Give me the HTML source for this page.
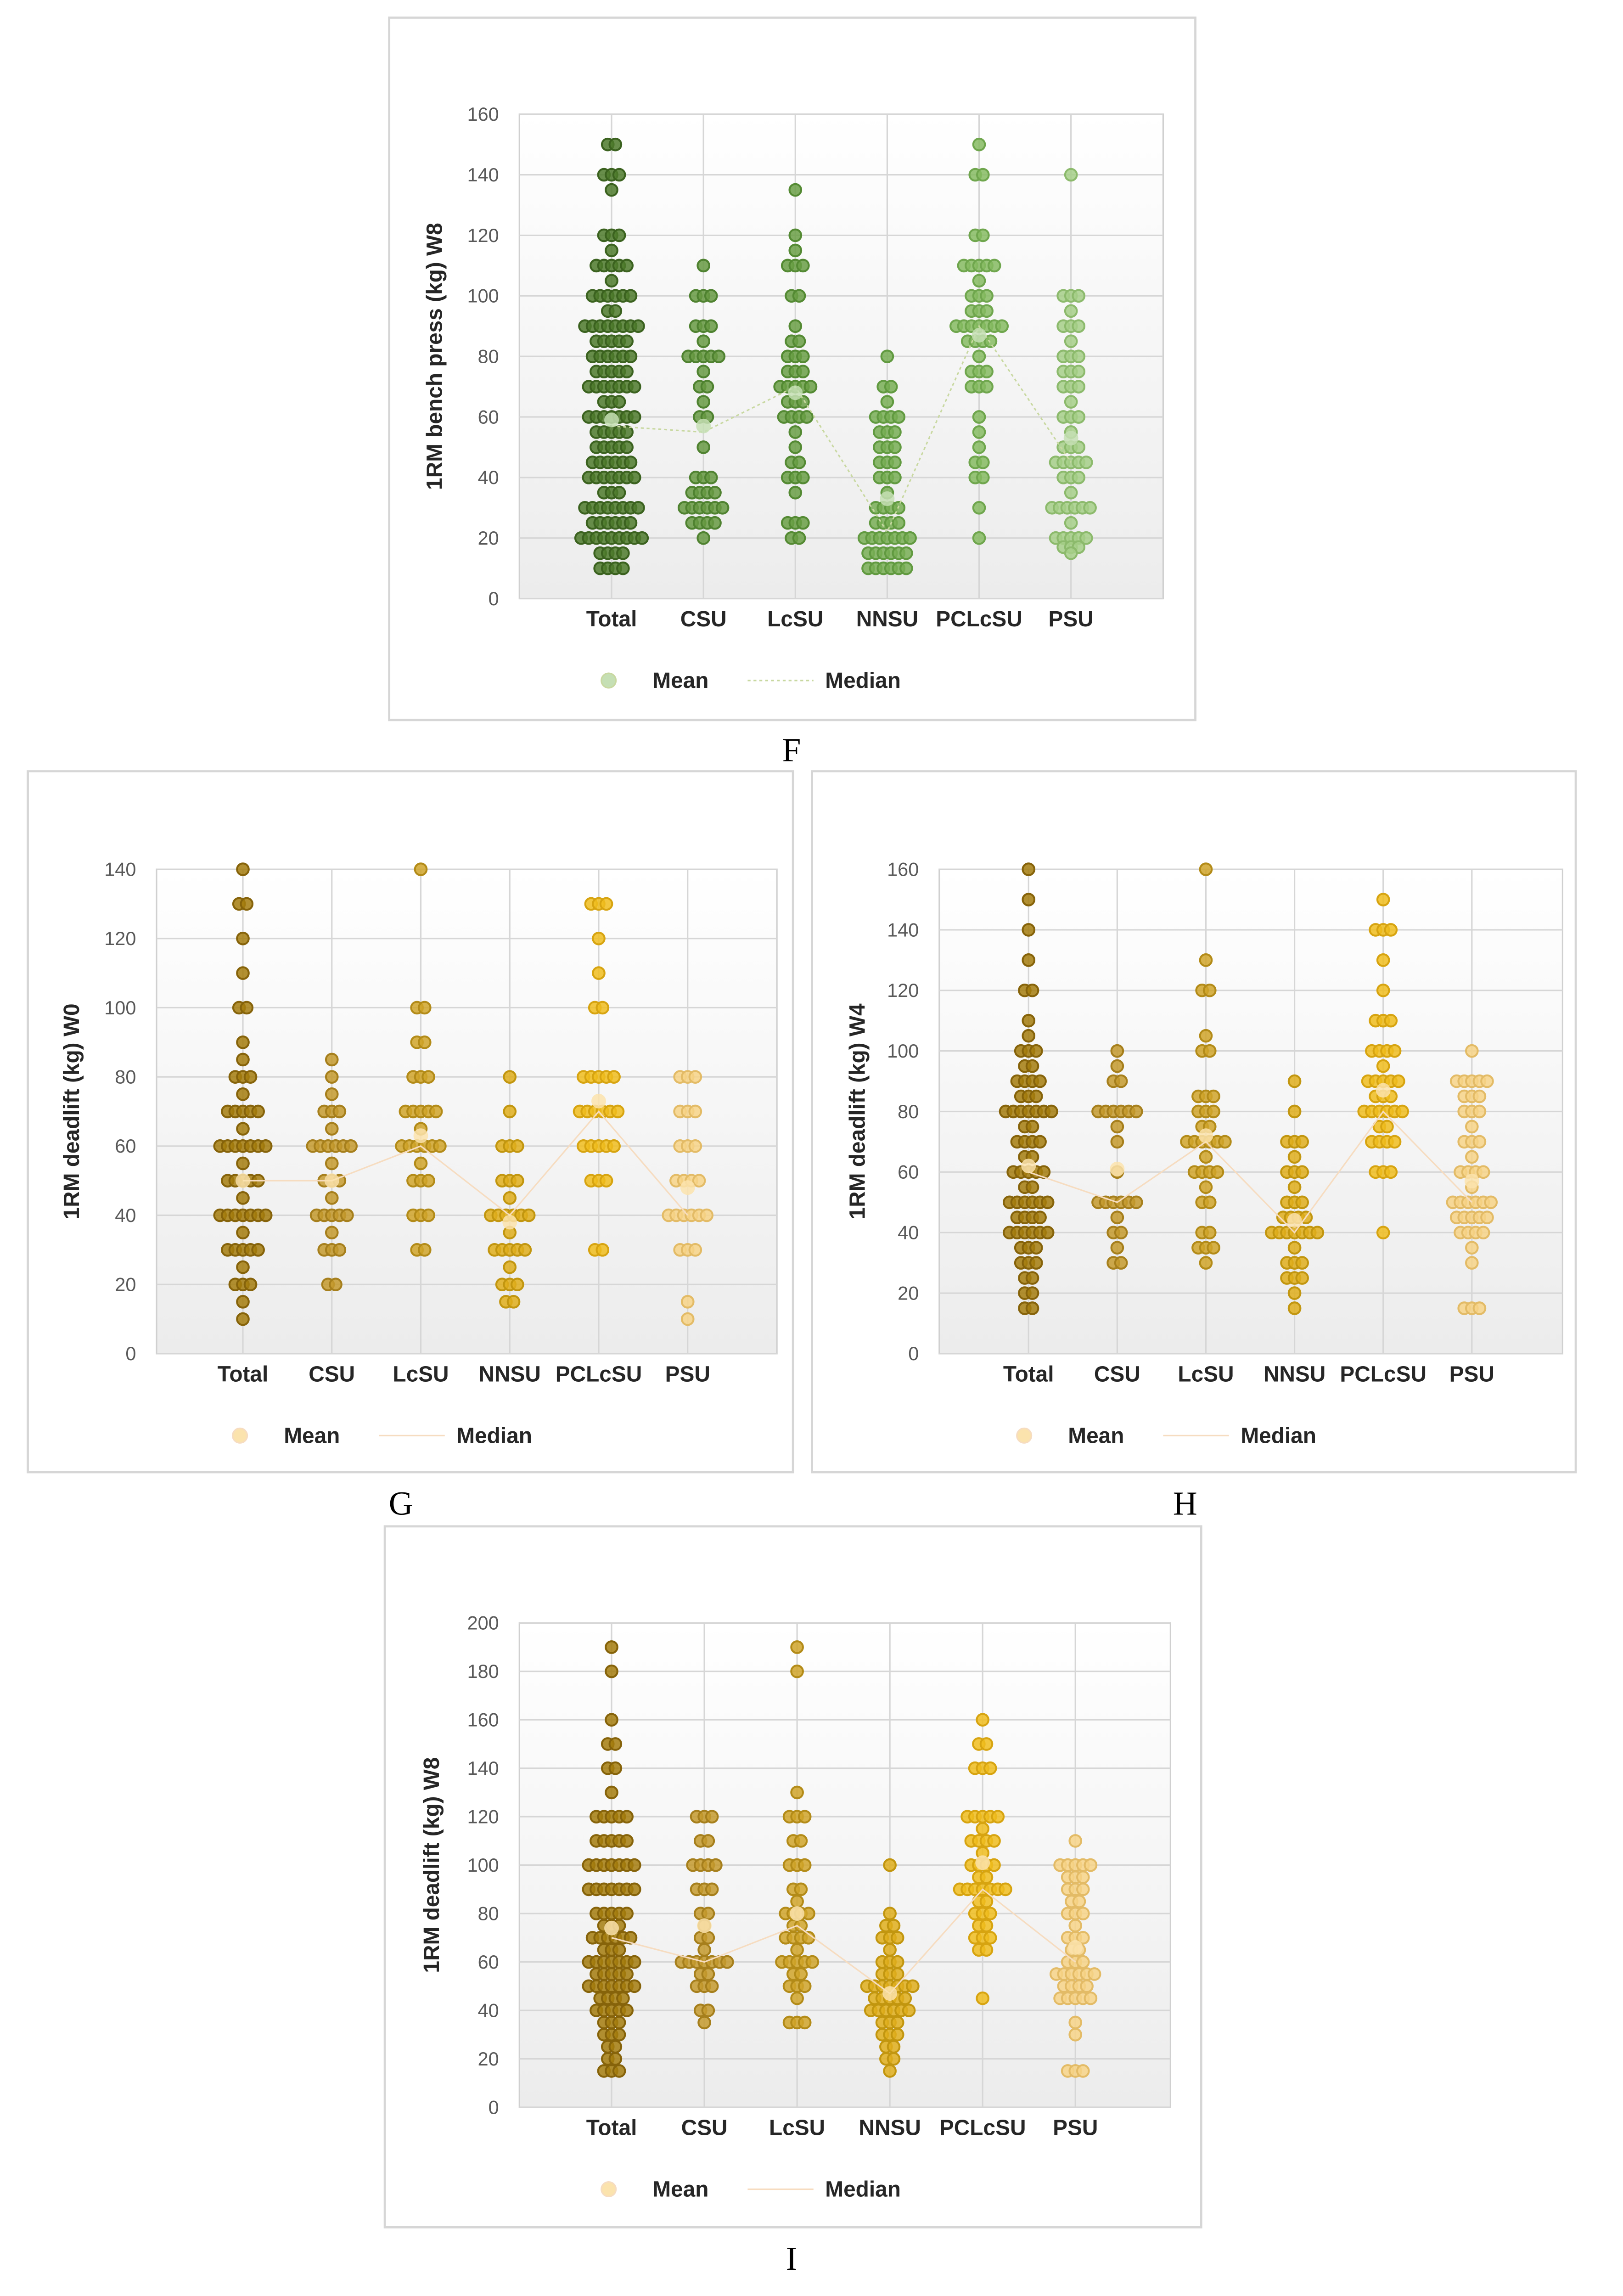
<!DOCTYPE html>
<html><head><meta charset="utf-8"><style>
html,body{margin:0;padding:0;background:#fff;overflow:hidden}
svg{display:block}
</style></head><body>
<svg id="root" xmlns="http://www.w3.org/2000/svg" width="3535" height="5072" viewBox="0 0 1109.3 1591.5">
<defs>
<linearGradient id="bg" x1="0" y1="0" x2="0" y2="1"><stop offset="0" stop-color="#ffffff"/><stop offset="1" stop-color="#ececec"/></linearGradient>
</defs>
</svg>
<script>
const cats = ["Total","CSU","LcSU","NNSU","PCLcSU","PSU"];
// Panel F: value/count lists per category
const fTotalV=[150,140,135,120,115,110,105,100,95,90,85,80,75,70,65,60,55,50,45,40,35,30,25,20,15,10];
const fTotalC=[2,3,1,3,1,5,1,6,2,8,5,6,5,7,3,7,5,5,6,7,3,8,6,9,4,4];
const fCsuV=[110,100,90,85,80,75,70,65,60,50,40,35,30,25,20];
const fCsuC=[1,3,3,1,5,1,2,1,2,1,3,4,6,4,1];
const fLcsuV=[135,120,115,110,100,90,85,80,75,70,65,60,55,50,45,40,35,25,20];
const fLcsuC=[1,1,1,3,2,1,2,3,3,5,3,4,1,1,2,3,1,3,2];
const fNnsuV=[80,70,65,60,55,50,45,40,35,30,25,20,15,10];
const fNnsuC=[1,2,1,4,3,3,3,3,1,4,4,7,6,6];
const fPclV=[150,140,120,110,105,100,95,90,85,80,75,70,60,55,50,45,40,30,20];
const fPclC=[1,2,2,5,1,3,3,7,4,1,3,3,1,1,1,2,2,1,1];
const fPsuV=[140,100,95,90,85,80,75,70,65,60,55,50,45,40,35,30,25,20,17,15];
const fPsuC=[1,3,1,3,1,3,3,3,1,3,1,3,5,3,1,6,1,5,3,1];
const fMean=[59,57,68,33,87,53];
const fMedian=[57,55,70,22,90,45];
// Panel G
const gTotalV=[140,130,120,110,100,90,85,80,75,70,65,60,55,50,45,40,35,30,25,20,15,10];
const gTotalC=[1,2,1,1,2,1,1,3,1,5,1,7,1,5,1,7,1,5,1,3,1,1];
const gCsuV=[85,80,75,70,65,60,55,50,45,40,35,30,20];
const gCsuC=[1,1,1,3,1,6,1,3,1,5,1,3,2];
const gLcsuV=[140,100,90,80,70,65,60,55,50,40,30];
const gLcsuC=[1,2,2,3,5,1,6,1,3,3,2];
const gNnsuV=[80,70,60,50,45,40,35,30,25,20,15];
const gNnsuC=[1,1,3,3,1,6,1,5,1,3,2];
const gPclV=[130,120,110,100,80,70,60,50,30];
const gPclC=[3,1,1,2,5,6,5,3,2];
const gPsuV=[80,70,60,50,40,30,15,10];
const gPsuC=[3,3,3,4,6,3,1,1];
const gMean=[50,50,63,38,73,48];
const gMedian=[50,50,60,40,70,40];
// Panel H
const hTotalV=[160,150,140,130,120,110,105,100,95,90,85,80,75,70,65,60,55,50,45,40,35,30,25,20,15];
const hTotalC=[1,1,1,1,2,1,1,3,2,4,3,7,2,4,2,5,2,6,4,6,3,3,2,2,2];
const hCsuV=[100,95,90,80,75,70,60,50,45,40,35,30];
const hCsuC=[1,1,2,6,1,1,1,6,1,2,1,2];
const hLcsuV=[160,130,120,105,100,85,80,75,70,65,60,55,50,40,35,30];
const hLcsuC=[1,1,2,1,2,3,3,2,6,1,4,1,2,2,3,1];
const hNnsuV=[90,80,70,65,60,55,50,45,40,35,30,25,20,15];
const hNnsuC=[1,1,3,1,3,1,3,4,7,1,3,3,1,1];
const hPclV=[150,140,130,120,110,100,95,90,85,80,75,70,60,40];
const hPclC=[1,3,1,1,3,4,1,5,3,6,2,4,3,1];
const hPsuV=[100,90,85,80,75,70,65,60,55,50,45,40,35,30,15];
const hPsuC=[1,5,3,3,1,3,1,4,1,6,5,4,1,1,3];
const hMean=[62,61,72,44,87,57];
const hMedian=[60,50,70,40,80,50];
// Panel I
const iTotalV=[190,180,160,150,140,130,120,110,100,90,80,75,70,65,60,55,50,45,40,35,30,25,20,15];
const iTotalC=[1,1,1,2,2,1,5,5,7,7,5,3,6,3,7,5,7,4,5,3,3,2,2,3];
const iCsuV=[120,110,100,90,80,75,70,65,60,55,50,40,35];
const iCsuC=[3,2,4,3,2,1,2,1,7,2,3,2,1];
const iLcsuV=[190,180,130,120,110,100,90,85,80,75,70,65,60,55,50,45,35];
const iLcsuC=[1,1,1,3,2,3,2,1,4,2,4,1,5,2,3,1,3];
const iNnsuV=[100,80,75,70,65,60,55,50,45,40,35,30,25,20,15];
const iNnsuC=[1,1,2,3,1,3,3,7,5,6,3,3,2,2,1];
const iPclV=[160,150,140,120,115,110,105,100,95,90,85,80,75,70,65,45];
const iPclC=[1,2,3,5,1,4,1,4,2,7,2,3,2,3,2,1];
const iPsuV=[110,100,95,90,85,80,75,70,65,60,55,50,45,35,30,15];
const iPsuC=[1,5,3,3,2,3,1,3,2,3,6,4,5,1,1,3];
const iMean=[74,75,80,47,101,66];
const iMedian=[70,60,75,47,90,60];

const NS="http://www.w3.org/2000/svg";
const root=document.getElementById('root');
function mk(tag,attrs,parent){const e=document.createElementNS(NS,tag);for(const k in attrs)e.setAttribute(k,attrs[k]);(parent||root).appendChild(e);return e;}
const green=["#4d7a2c","#679a43","#6a9f45","#78ae55","#86bb62","#a6cf88"];
const greenS=["#3b621f","#4f8230","#548a33","#619a40","#6fa64d","#8cba6c"];
const gold=["#a57c0e","#c49a2e","#d0a52a","#dfae1c","#f0bd1e","#f7d487"];
const goldS=["#86630a","#a67f1c","#b38b18","#c2960f","#d7a410","#e3bb66"];

function panel(p){
  const g=mk('g',{});
  
  
  const box=mk('rect',{x:p.bx,y:p.by,width:p.bw,height:p.bh,fill:'#fff',stroke:'#d6d6d6','stroke-width':1.5},g);
  
  
  const X0=p.px0,X1=p.px1,Y0=p.py0,Y1=p.py1;
  const y=v=>Y0-(v/p.max)*(Y0-Y1);
  const cx=i=>p.cx0+i*p.cs;
  mk('rect',{x:X0,y:Y1,width:X1-X0,height:Y0-Y1,fill:'url(#bg)',stroke:'#d0d0d0','stroke-width':1},g);
  for(let v=0;v<=p.max;v+=20){
    const gl=mk('line',{x1:X0,x2:X1,y1:y(v),y2:y(v),stroke:'#d6d6d6','stroke-width':1},g);
    
    
    const t=mk('text',{x:X0-14,y:y(v)+4.5,'text-anchor':'end','font-size':13,fill:'#595959','font-family':'Liberation Sans, sans-serif'},g);
    t.textContent=v;
    
    
  }
  for(let i=0;i<6;i++){
    mk('line',{x1:cx(i),x2:cx(i),y1:Y1,y2:Y0,stroke:'#d6d6d6','stroke-width':1},g);
    const t=mk('text',{x:cx(i),y:Y0+19,'text-anchor':'middle','font-size':15,'font-weight':'bold',fill:'#262626','font-family':'Liberation Sans, sans-serif'},g);
    t.textContent=cats[i];
    
    
  }
  const yt=mk('text',{x:0,y:0,transform:`translate(${p.ytx},${(Y0+Y1)/2}) rotate(-90)`,'text-anchor':'middle','font-size':15,'font-weight':'bold',fill:'#262626','font-family':'Liberation Sans, sans-serif'},g);
  yt.textContent=p.ytitle;
  
  
  for(let i=0;i<6;i++){
    const V=p.vals[i],C=p.counts[i];
    for(let k=0;k<V.length;k++){
      const n=C[k];
      for(let j=0;j<n;j++){
        const off=(j-(n-1)/2)*5.2;
        const d=mk('circle',{cx:cx(i)+off,cy:y(V[k]),r:4,fill:p.fill[i],stroke:p.stroke[i],'stroke-width':1.3,'fill-opacity':0.85},g);
        
        
      }
    }
  }
  let dpath='';
  for(let i=0;i<6;i++)dpath+=(i?'L':'M')+cx(i)+' '+y(p.median[i]);
  const ml=mk('path',{d:dpath,fill:'none',stroke:p.medCol,'stroke-width':1,'stroke-dasharray':p.dash},g);
  
  
  for(let i=0;i<6;i++){
    const m=mk('circle',{cx:cx(i),cy:y(p.mean[i]),r:5,fill:p.meanCol,'fill-opacity':0.85},g);
    
    
  }
  const ly=p.ly;
  const lm=mk('circle',{cx:p.lx,cy:ly-5,r:5,fill:p.meanCol,stroke:p.medCol,'stroke-width':1},g);
  
  
  const t1=mk('text',{x:p.lx+30,y:ly,'font-size':15,'font-weight':'bold',fill:'#262626','font-family':'Liberation Sans, sans-serif'},g);
  t1.textContent='Mean';
  
  
  mk('line',{x1:p.lx+95,x2:p.lx+140,y1:ly-5,y2:ly-5,stroke:p.medCol,'stroke-width':1,'stroke-dasharray':p.dash},g);
  const t2=mk('text',{x:p.lx+148,y:ly,'font-size':15,'font-weight':'bold',fill:'#262626','font-family':'Liberation Sans, sans-serif'},g);
  t2.textContent='Median';
  
  
  const lab=mk('text',{x:p.labx,y:p.laby,'text-anchor':'middle','font-size':23,fill:'#000','font-family':'Liberation Serif, serif'},g);
  lab.textContent=p.letter;
  
  
}
panel({name:'chart-f',bx:266,by:12,bw:551,bh:480,px0:355,px1:795,py0:409,py1:78,max:160,cx0:418,cs:62.8,ytx:302,ytitle:'1RM bench press (kg) W8',
  vals:[fTotalV,fCsuV,fLcsuV,fNnsuV,fPclV,fPsuV],counts:[fTotalC,fCsuC,fLcsuC,fNnsuC,fPclC,fPsuC],mean:fMean,median:fMedian,
  fill:green,stroke:greenS,meanCol:'#c5dfb4',medCol:'#c8d8a0',dash:'2 2',lx:416,ly:470,labx:541,laby:520,letter:'F'});
panel({name:'chart-g',bx:19,by:527,bw:523,bh:479,px0:107,px1:531,py0:925,py1:594,max:140,cx0:166,cs:60.8,ytx:54,ytitle:'1RM deadlift (kg) W0',
  vals:[gTotalV,gCsuV,gLcsuV,gNnsuV,gPclV,gPsuV],counts:[gTotalC,gCsuC,gLcsuC,gNnsuC,gPclC,gPsuC],mean:gMean,median:gMedian,
  fill:gold,stroke:goldS,meanCol:'#fbe3ad',medCol:'#f6dcc0',dash:'',lx:164,ly:986,labx:274,laby:1035,letter:'G'});
panel({name:'chart-h',bx:555,by:527,bw:522,bh:479,px0:642,px1:1068,py0:925,py1:594,max:160,cx0:703,cs:60.6,ytx:591,ytitle:'1RM deadlift (kg) W4',
  vals:[hTotalV,hCsuV,hLcsuV,hNnsuV,hPclV,hPsuV],counts:[hTotalC,hCsuC,hLcsuC,hNnsuC,hPclC,hPsuC],mean:hMean,median:hMedian,
  fill:gold,stroke:goldS,meanCol:'#fbe3ad',medCol:'#f6dcc0',dash:'',lx:700,ly:986,labx:810,laby:1035,letter:'H'});
panel({name:'chart-i',bx:263,by:1043,bw:558,bh:479,px0:355,px1:800,py0:1440,py1:1109,max:200,cx0:418,cs:63.4,ytx:300,ytitle:'1RM deadlift (kg) W8',
  vals:[iTotalV,iCsuV,iLcsuV,iNnsuV,iPclV,iPsuV],counts:[iTotalC,iCsuC,iLcsuC,iNnsuC,iPclC,iPsuC],mean:iMean,median:iMedian,
  fill:gold,stroke:goldS,meanCol:'#fbe3ad',medCol:'#f6dcc0',dash:'',lx:416,ly:1501,labx:541,laby:1551,letter:'I'});
</script>
</body></html>
